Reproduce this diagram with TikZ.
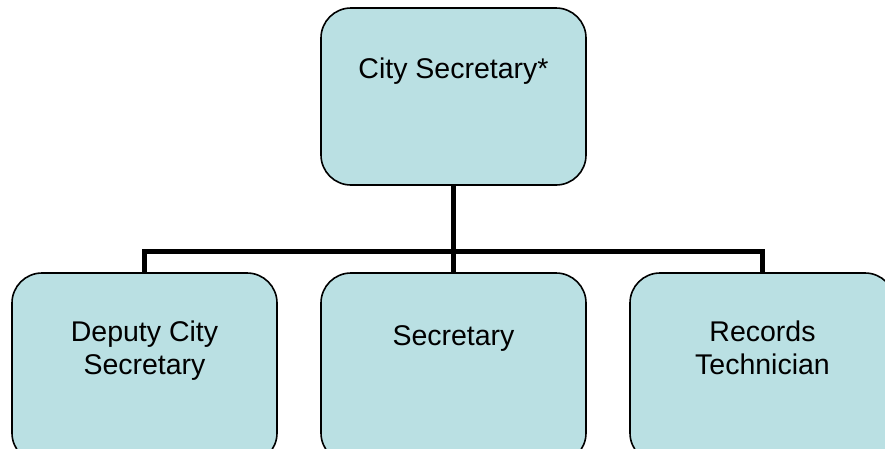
\documentclass[tikz,border=0pt]{standalone}
\usepackage{fontspec}
\setmainfont{Liberation Sans}
\definecolor{boxfill}{RGB}{186,224,227}
\begin{document}
\begin{tikzpicture}[x=1pt,y=-1pt,
  box/.style={draw=black,line width=1.6pt,fill=boxfill,rounded corners=30pt,
    rectangle,minimum width=265pt,inner sep=0pt},
  conn/.style={draw=black,line width=5pt,line join=miter},
  lbl/.style={font=\fontsize{28.5}{33}\selectfont,align=center,anchor=base,inner sep=0pt}]
\useasboundingbox (0,0) rectangle (885,448);
\node[box,minimum height=177pt] (top) at (453.5,96.5) {};
\node[box,minimum height=190pt] (dep) at (144.5,368) {};
\node[box,minimum height=190pt] (sec) at (453.5,368) {};
\node[box,minimum height=190pt] (rec) at (762.5,368) {};
\draw[conn] (top.south) -- (sec.north);
\draw[conn] (dep.north) -- (dep.north |- 0,251) -- (rec.north |- 0,251) -- (rec.north);
\node[lbl] (toplbl) at (453.5,78) {City Secretary*};
\node[lbl,anchor=north] (deplbl) at (144.5,321) {Deputy City\\Secretary};
\node[lbl] (seclbl) at (453.5,345) {Secretary};
\node[lbl,anchor=north] (reclbl) at (762.5,321) {Records\\Technician};
\end{tikzpicture}
\end{document}
